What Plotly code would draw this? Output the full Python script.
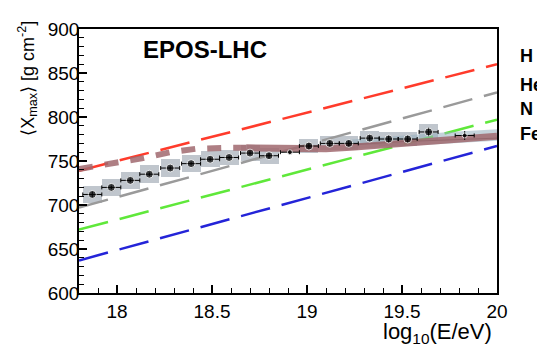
import plotly.graph_objects as go

# ---- data ----
lgE = [17.87, 17.97, 18.07, 18.17, 18.28, 18.39, 18.49, 18.59, 18.70, 18.80,
       18.91, 19.01, 19.12, 19.22, 19.33, 19.43, 19.53, 19.64, 19.83]
xmax = [712, 720, 728, 735, 742, 747, 752, 754, 759, 756,
        760, 767, 770, 770, 776, 775, 775, 783, 779]
stat = [3, 2, 2, 2, 2, 2, 2, 2, 2, 3, 3, 3, 3, 3, 3, 4, 4, 5, 5]
syst = [10, 10, 10, 10, 10, 10, 9, 9, 9, 9, 0, 8, 8, 8, 8, 8, 8, 9, 0]
binhalf = [0.05] * 19

model_x = [17.8, 20.0]
H = [739, 860]
He = [697, 828]
N = [672, 797]
Fe = [637, 767]

fit_dash_x = [17.8, 17.98, 18.13, 18.28, 18.42, 18.59, 18.68]
fit_dash_y = [741, 747, 753, 760, 764, 765, 765]
fit_x = [18.68, 18.9, 19.1, 19.25, 19.5, 19.75, 20.0]
fit_y = [765, 764, 764, 766, 770, 774, 778]

band_x = [19.2, 19.5, 19.75, 20.0]
band_lo = [763, 767, 770, 773]
band_hi = [774, 779, 783, 786]
band_mid = [768, 772, 774, 776]

fig = go.Figure()

dash = "30px,12px"
for ys, col in [(H, "#ff3b2b"), (He, "#9a9a9a"), (N, "#5fe83a"), (Fe, "#2424d8")]:
    fig.add_trace(go.Scatter(x=model_x, y=ys, mode="lines",
                             line=dict(color=col, width=2.5, dash=dash),
                             hoverinfo="skip", showlegend=False))

# band
fig.add_trace(go.Scatter(x=band_x, y=band_lo, mode="lines", line=dict(width=0),
                         showlegend=False, hoverinfo="skip"))
fig.add_trace(go.Scatter(x=band_x, y=band_hi, mode="lines", line=dict(width=0),
                         fill="tonexty", fillcolor="rgba(150,175,190,0.55)",
                         showlegend=False, hoverinfo="skip"))
fig.add_trace(go.Scatter(x=band_x, y=band_mid, mode="lines",
                         line=dict(color="#505a60", width=1),
                         showlegend=False, hoverinfo="skip"))

# fit line
brown = "rgba(160,105,110,0.85)"
fig.add_trace(go.Scatter(x=fit_dash_x, y=fit_dash_y, mode="lines",
                         line=dict(color=brown, width=6, dash="14px,12px"),
                         showlegend=False, hoverinfo="skip"))
fig.add_trace(go.Scatter(x=fit_x, y=fit_y, mode="lines",
                         line=dict(color=brown, width=7),
                         showlegend=False, hoverinfo="skip"))

# systematic boxes
fig.add_trace(go.Bar(x=lgE, y=[2 * s for s in syst], base=[v - s for v, s in zip(xmax, syst)],
                     width=0.1, marker=dict(color="rgba(150,160,172,0.6)", line=dict(width=0)),
                     showlegend=False, hoverinfo="skip"))

sizes = [8 if s > 0 else 5 for s in syst]
fig.add_trace(go.Scatter(x=lgE, y=xmax, mode="markers",
                         marker=dict(color="black", size=sizes),
                         error_x=dict(type="data", array=binhalf, color="black", thickness=1, width=2),
                         error_y=dict(type="data", array=stat, color="black", thickness=1, width=0),
                         showlegend=False))

# page has an 8px body margin: compensate
OFF = 8
L, R, T, B = 79 - OFF, 545 - (497 - OFF), 19 - OFF, 349 - (293 - OFF)
PW, PH = 418, 274

def px(xw):
    return (xw - 79) / PW

def py(yw):
    return (293 - yw) / PH

font = "Liberation Sans, Arial, sans-serif"
annotations = [
    dict(text="<b>EPOS-LHC</b>", x=px(205), y=py(40), xref="paper", yref="paper",
         xanchor="center", yanchor="middle", showarrow=False, font=dict(size=24)),
    dict(text="log<sub>10</sub>(E/eV)", x=px(494), y=py(318), xref="paper", yref="paper",
         xanchor="right", yanchor="top", showarrow=False, font=dict(size=22)),
    dict(text="⟨X<sub>max</sub>⟩ [g cm<sup>-2</sup>]", x=px(28), y=py(9), xref="paper", yref="paper",
         xanchor="center", yanchor="top", textangle=-90, showarrow=False, font=dict(size=18)),
]
for t, yy in [("H", 47), ("He", 77), ("N", 102), ("Fe", 128)]:
    annotations.append(dict(text=f"<b>{t}</b>", x=px(518), y=py(yy),
                            xref="paper", yref="paper", xanchor="left", yanchor="middle",
                            showarrow=False, font=dict(size=18)))

fig.update_layout(
    width=545, height=349,
    margin=dict(l=L, r=R, t=T, b=B),
    paper_bgcolor="white", plot_bgcolor="white",
    font=dict(family=font, color="black", size=19),
    bargap=0,
    xaxis=dict(range=[17.8, 20.0], tickvals=[18, 18.5, 19, 19.5, 20],
               ticktext=["18", "18.5", "19", "19.5", "20"],
               ticks="inside", ticklen=8, tickwidth=1.5, tickcolor="black",
               minor=dict(dtick=0.1, ticks="inside", ticklen=5, tickwidth=1.2, tickcolor="black"),
               showline=True, linecolor="black", linewidth=1.5, mirror=True,
               showgrid=False, zeroline=False, tickfont=dict(size=19)),
    yaxis=dict(range=[600, 900], tickvals=[600, 650, 700, 750, 800, 850, 900],
               ticks="inside", ticklen=8, tickwidth=1.5, tickcolor="black",
               minor=dict(dtick=10, ticks="inside", ticklen=5, tickwidth=1.2, tickcolor="black"),
               showline=True, linecolor="black", linewidth=1.5, mirror=True,
               showgrid=False, zeroline=False, tickfont=dict(size=19),
               ticklabelstandoff=-6),
    annotations=annotations,
)

fig.write_html("out.html")
